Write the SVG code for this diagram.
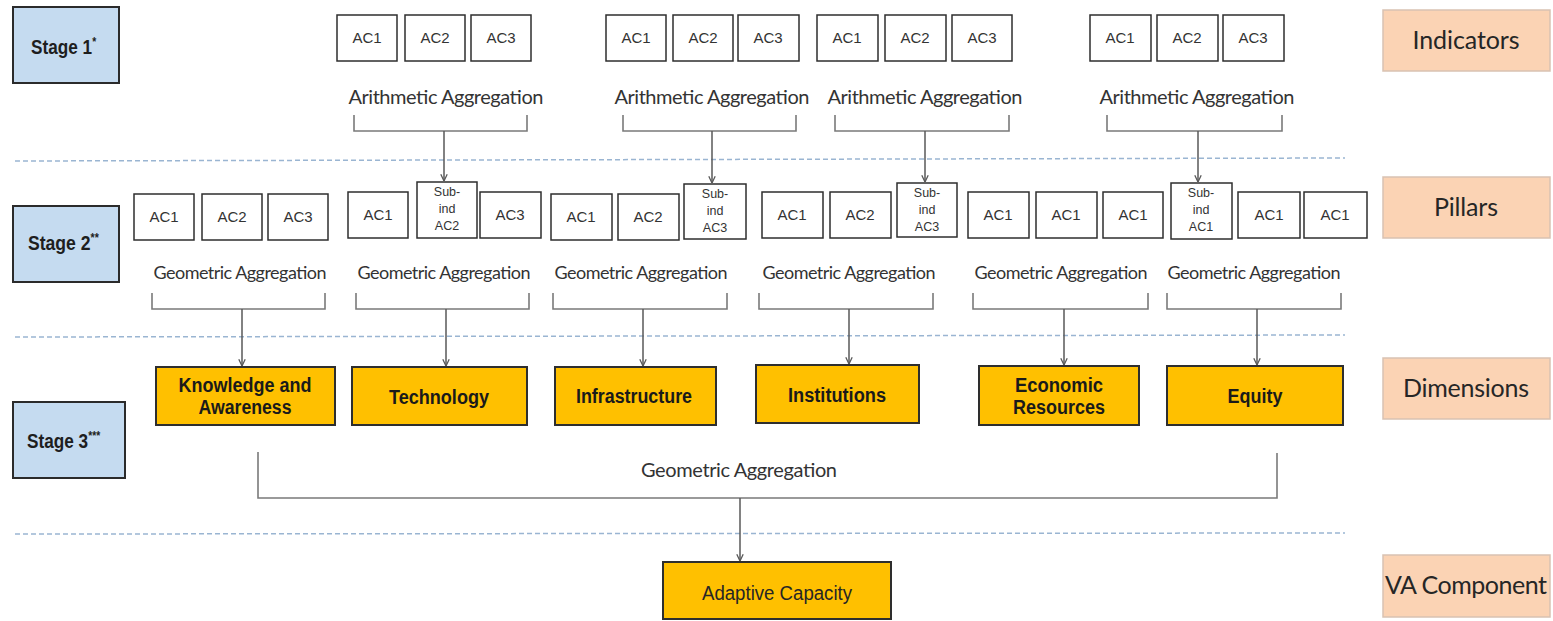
<svg xmlns="http://www.w3.org/2000/svg" width="1553" height="621" viewBox="0 0 1553 621">
<defs>
<marker id="arr" viewBox="0 0 10 10" refX="9.5" refY="5" markerWidth="8" markerHeight="8" markerUnits="userSpaceOnUse" orient="auto">
<path d="M1,1 L9.5,5 L1,9" fill="none" stroke="#595959" stroke-width="1.6"/>
</marker>
<style>
.stage{fill:#c5dbf0;stroke:#2b2b2b;stroke-width:2}
.stt{font-family:"Liberation Sans",Arial,sans-serif;font-weight:bold;font-size:20px;fill:#1e1e1e}
.ast{font-size:12px}
.ac{fill:#ffffff;stroke:#2e2e2e;stroke-width:1.5}
.act{font-family:"Liberation Sans",Arial,sans-serif;font-size:15px;fill:#333;text-anchor:middle}
.sub{font-family:"Liberation Sans",Arial,sans-serif;font-size:12.5px;fill:#333;text-anchor:middle}
.agg{font-family:Lato,"Open Sans",sans-serif;fill:#333;text-anchor:middle}
.dim{fill:#ffc000;stroke:#2e2e2e;stroke-width:2}
.dimt{font-family:"Liberation Sans",Arial,sans-serif;font-weight:bold;font-size:20px;fill:#1a1a1a;text-anchor:middle}
.dimn{font-family:"Liberation Sans",Arial,sans-serif;font-weight:normal;font-size:20px;fill:#262626;text-anchor:middle}
.lab{fill:#fbd3b4;stroke:#d9c2b2;stroke-width:1.5}
.labt{font-family:Lato,"Open Sans",sans-serif;font-size:25px;fill:#262626;text-anchor:middle}
.br{fill:none;stroke:#7a7a7a;stroke-width:1.6}
.stem{fill:none;stroke:#595959;stroke-width:1.5;marker-end:url(#arr)}
.dash{stroke:#9ab5d2;stroke-width:1.5;stroke-dasharray:5 3;fill:none}
</style>
</defs>
<rect width="1553" height="621" fill="#ffffff"/>

<g id="separators">
<line class="dash" x1="15" y1="161" x2="1345" y2="158"/>
<line class="dash" x1="15" y1="337" x2="1345" y2="335"/>
<line class="dash" x1="15" y1="534" x2="1345" y2="533"/>
</g>

<g id="stage1"><rect class="stage" x="13" y="7" width="106" height="76"/><text class="stt" transform="translate(31,54) scale(0.86,1)">Stage 1<tspan class="ast" dy="-8">*</tspan></text></g>
<g id="stage2"><rect class="stage" x="13" y="206" width="106" height="76"/><text class="stt" transform="translate(28,250) scale(0.88,1)">Stage 2<tspan class="ast" dy="-8">**</tspan></text></g>
<g id="stage3"><rect class="stage" x="13" y="402" width="112" height="76"/><text class="stt" transform="translate(27,448) scale(0.86,1)">Stage 3<tspan class="ast" dy="-8">***</tspan></text></g>

<g id="label-indicators"><rect class="lab" x="1383" y="10" width="167" height="61"/><text class="labt" x="1466" y="49" textLength="107">Indicators</text></g>
<g id="label-pillars"><rect class="lab" x="1383" y="177" width="167" height="61"/><text class="labt" x="1466" y="216" textLength="64">Pillars</text></g>
<g id="label-dimensions"><rect class="lab" x="1383" y="358" width="167" height="61"/><text class="labt" x="1466" y="397" textLength="126">Dimensions</text></g>
<g id="label-va"><rect class="lab" x="1383" y="555" width="167" height="62"/><text class="labt" x="1466" y="594" textLength="162">VA Component</text></g>

<!-- Stage 1 indicators -->
<g id="ind-g1">
<rect class="ac" x="337" y="15" width="60" height="46"/><text class="act" x="367" y="43">AC1</text>
<rect class="ac" x="405" y="15" width="60" height="46"/><text class="act" x="435" y="43">AC2</text>
<rect class="ac" x="471" y="15" width="60" height="46"/><text class="act" x="501" y="43">AC3</text>
</g>
<g id="ind-g2">
<rect class="ac" x="606" y="15" width="60" height="46"/><text class="act" x="636" y="43">AC1</text>
<rect class="ac" x="673" y="15" width="60" height="46"/><text class="act" x="703" y="43">AC2</text>
<rect class="ac" x="738" y="15" width="61" height="46"/><text class="act" x="768" y="43">AC3</text>
</g>
<g id="ind-g3">
<rect class="ac" x="817" y="15" width="61" height="46"/><text class="act" x="847" y="43">AC1</text>
<rect class="ac" x="885" y="15" width="61" height="46"/><text class="act" x="915" y="43">AC2</text>
<rect class="ac" x="952" y="15" width="60" height="46"/><text class="act" x="982" y="43">AC3</text>
</g>
<g id="ind-g4">
<rect class="ac" x="1090" y="15" width="61" height="46"/><text class="act" x="1120" y="43">AC1</text>
<rect class="ac" x="1157" y="15" width="61" height="46"/><text class="act" x="1187" y="43">AC2</text>
<rect class="ac" x="1223" y="15" width="61" height="46"/><text class="act" x="1253" y="43">AC3</text>
</g>

<g id="arith-labels">
<text class="agg" x="446" y="104" font-size="20" textLength="195">Arithmetic Aggregation</text>
<text class="agg" x="712" y="104" font-size="20" textLength="195">Arithmetic Aggregation</text>
<text class="agg" x="925" y="104" font-size="20" textLength="195">Arithmetic Aggregation</text>
<text class="agg" x="1197" y="104" font-size="20" textLength="195">Arithmetic Aggregation</text>
</g>

<!-- Stage 2 pillars -->
<g id="pil-g1">
<rect class="ac" x="134" y="194" width="60" height="46"/><text class="act" x="164" y="222">AC1</text>
<rect class="ac" x="202" y="194" width="60" height="46"/><text class="act" x="232" y="222">AC2</text>
<rect class="ac" x="268" y="194" width="60" height="46"/><text class="act" x="298" y="222">AC3</text>
</g>
<g id="pil-g2">
<rect class="ac" x="348" y="192" width="60" height="46"/><text class="act" x="378" y="220">AC1</text>
<rect class="ac" x="417" y="182" width="60" height="56"/><text class="sub" x="447" y="196">Sub-</text><text class="sub" x="447" y="213">ind</text><text class="sub" x="447" y="230">AC2</text>
<rect class="ac" x="480" y="192" width="61" height="46"/><text class="act" x="510" y="220">AC3</text>
</g>
<g id="pil-g3">
<rect class="ac" x="551" y="194" width="61" height="46"/><text class="act" x="581" y="222">AC1</text>
<rect class="ac" x="618" y="194" width="61" height="46"/><text class="act" x="648" y="222">AC2</text>
<rect class="ac" x="684" y="184" width="62" height="55"/><text class="sub" x="715" y="198">Sub-</text><text class="sub" x="715" y="215">ind</text><text class="sub" x="715" y="232">AC3</text>
</g>
<g id="pil-g4">
<rect class="ac" x="762" y="192" width="61" height="46"/><text class="act" x="792" y="220">AC1</text>
<rect class="ac" x="830" y="192" width="61" height="46"/><text class="act" x="860" y="220">AC2</text>
<rect class="ac" x="897" y="183" width="60" height="54"/><text class="sub" x="927" y="197">Sub-</text><text class="sub" x="927" y="214">ind</text><text class="sub" x="927" y="231">AC3</text>
</g>
<g id="pil-g5">
<rect class="ac" x="968" y="192" width="61" height="46"/><text class="act" x="998" y="220">AC1</text>
<rect class="ac" x="1036" y="192" width="61" height="46"/><text class="act" x="1066" y="220">AC1</text>
<rect class="ac" x="1103" y="192" width="60" height="46"/><text class="act" x="1133" y="220">AC1</text>
</g>
<g id="pil-g6">
<rect class="ac" x="1171" y="183" width="61" height="56"/><text class="sub" x="1201" y="197">Sub-</text><text class="sub" x="1201" y="214">ind</text><text class="sub" x="1201" y="231">AC1</text>
<rect class="ac" x="1238" y="192" width="62" height="46"/><text class="act" x="1269" y="220">AC1</text>
<rect class="ac" x="1304" y="192" width="63" height="46"/><text class="act" x="1335" y="220">AC1</text>
</g>

<g id="geo-labels">
<text class="agg" x="240" y="279" font-size="18" textLength="173">Geometric Aggregation</text>
<text class="agg" x="444" y="279" font-size="18" textLength="173">Geometric Aggregation</text>
<text class="agg" x="641" y="279" font-size="18" textLength="173">Geometric Aggregation</text>
<text class="agg" x="849" y="279" font-size="18" textLength="173">Geometric Aggregation</text>
<text class="agg" x="1061" y="279" font-size="18" textLength="173">Geometric Aggregation</text>
<text class="agg" x="1254" y="279" font-size="18" textLength="173">Geometric Aggregation</text>
<text class="agg" x="739" y="477" font-size="20" textLength="196">Geometric Aggregation</text>
</g>

<!-- Dimensions -->
<g id="dim-knowledge"><rect class="dim" x="156" y="367" width="179" height="58"/><text class="dimt" x="245" y="392" textLength="133" lengthAdjust="spacingAndGlyphs">Knowledge and</text><text class="dimt" x="245" y="414" textLength="93" lengthAdjust="spacingAndGlyphs">Awareness</text></g>
<g id="dim-technology"><rect class="dim" x="352" y="367" width="175" height="58"/><text class="dimt" x="439" y="404" textLength="100" lengthAdjust="spacingAndGlyphs">Technology</text></g>
<g id="dim-infrastructure"><rect class="dim" x="555" y="367" width="161" height="58"/><text class="dimt" x="634" y="403" textLength="116" lengthAdjust="spacingAndGlyphs">Infrastructure</text></g>
<g id="dim-institutions"><rect class="dim" x="756" y="365" width="163" height="58"/><text class="dimt" x="837" y="402" textLength="98" lengthAdjust="spacingAndGlyphs">Institutions</text></g>
<g id="dim-economic"><rect class="dim" x="979" y="366" width="160" height="59"/><text class="dimt" x="1059" y="392" textLength="88" lengthAdjust="spacingAndGlyphs">Economic</text><text class="dimt" x="1059" y="414" textLength="92" lengthAdjust="spacingAndGlyphs">Resources</text></g>
<g id="dim-equity"><rect class="dim" x="1167" y="366" width="176" height="59"/><text class="dimt" x="1255" y="403" textLength="55" lengthAdjust="spacingAndGlyphs">Equity</text></g>

<g id="adaptive-capacity"><rect class="dim" x="663" y="562" width="228" height="57"/><text class="dimn" x="777" y="600" textLength="150" lengthAdjust="spacingAndGlyphs">Adaptive Capacity</text></g>

<g id="connectors">
<polyline class="br" points="354,115 354,131 527,131 527,115"/>
<line class="stem" x1="444" y1="131" x2="444" y2="181"/>
<polyline class="br" points="623,115 623,131 796,131 796,115"/>
<line class="stem" x1="712" y1="131" x2="712" y2="183"/>
<polyline class="br" points="835,115 835,131 1009,131 1009,115"/>
<line class="stem" x1="925" y1="131" x2="925" y2="182"/>
<polyline class="br" points="1107,115 1107,131 1282,131 1282,115"/>
<line class="stem" x1="1198" y1="131" x2="1198" y2="182"/>

<polyline class="br" points="152,293 152,309 325,309 325,293"/>
<line class="stem" x1="242" y1="309" x2="242" y2="366"/>
<polyline class="br" points="356,293 356,309 529,309 529,293"/>
<line class="stem" x1="446" y1="309" x2="446" y2="366"/>
<polyline class="br" points="553,293 553,309 727,309 727,293"/>
<line class="stem" x1="643" y1="309" x2="643" y2="366"/>
<polyline class="br" points="759,293 759,309 933,309 933,293"/>
<line class="stem" x1="849" y1="309" x2="849" y2="364"/>
<polyline class="br" points="973,293 973,309 1148,309 1148,293"/>
<line class="stem" x1="1064" y1="309" x2="1064" y2="365"/>
<polyline class="br" points="1167,293 1167,309 1341,309 1341,293"/>
<line class="stem" x1="1257" y1="309" x2="1257" y2="365"/>

<polyline class="br" points="258,452 258,498 1277,498 1277,453"/>
<line class="stem" x1="740" y1="498" x2="740" y2="561"/>
</g>
</svg>
